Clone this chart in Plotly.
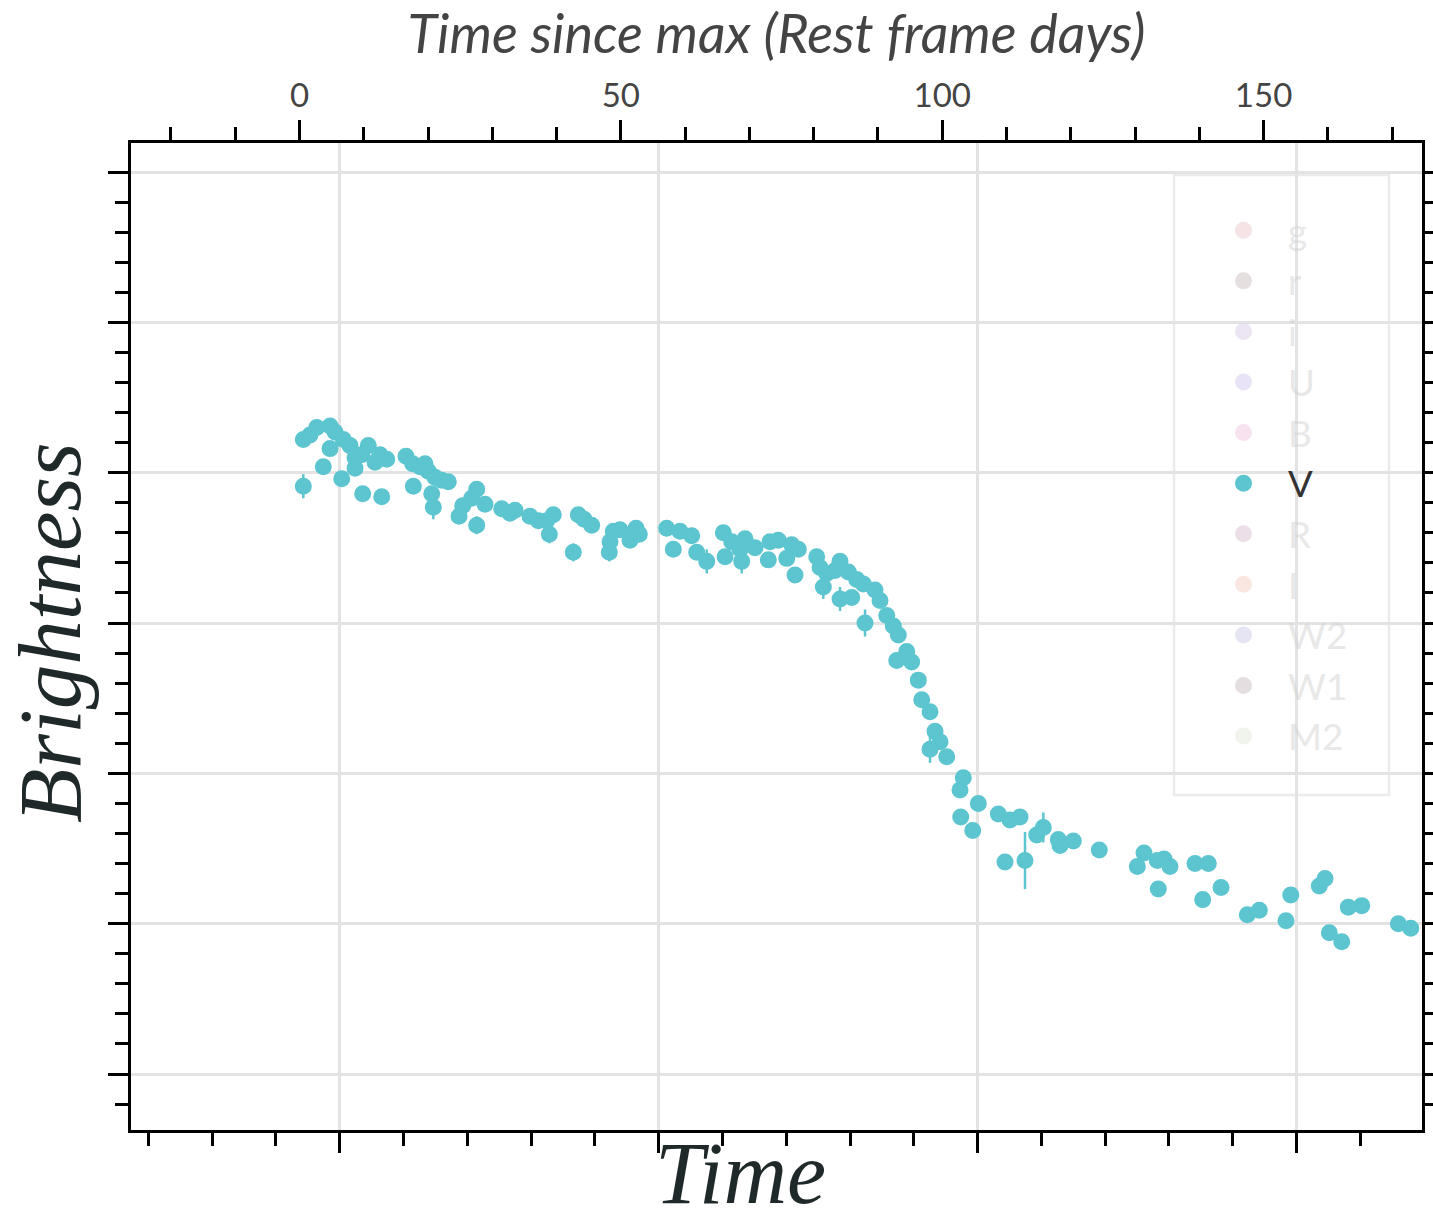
import plotly.graph_objects as go

# V-band photometry: rest-frame days since maximum, magnitude, 1-sigma error
v_phase = [0.59, 1.63, 2.68, 4.75, 5.52, 6.82, 7.86, 4.75, 3.70, 0.59,
           6.57, 8.64, 8.64, 10.70, 9.68, 11.75, 12.53, 13.57, 9.83, 12.79,
           16.57, 17.61, 18.75, 19.53, 20.04, 21.08, 22.12, 23.15, 17.71, 20.57,
           20.82, 27.57, 26.79, 28.86, 25.39, 24.82, 27.57, 31.46, 32.75, 33.53,
           35.86, 37.16, 38.46, 39.49, 38.87, 43.38, 44.27, 45.46, 42.60, 48.83,
           49.87, 48.31, 48.20, 51.42, 52.36, 52.87, 57.13, 59.20, 61.02, 58.16,
           61.80, 63.36, 65.94, 67.25, 69.32, 68.54, 66.21, 68.80, 70.87, 73.21,
           74.50, 72.94, 76.58, 77.61, 75.81, 77.10, 80.47, 80.99, 81.50, 82.03,
           84.10, 83.32, 85.39, 86.70, 84.10, 85.92, 87.72, 89.54, 90.32, 87.99,
           91.37, 92.39, 93.17, 94.48, 92.92, 95.25, 96.28, 96.81, 98.10, 98.88,
           99.66, 98.10, 100.70, 103.28, 102.77, 105.62, 102.88, 104.75, 108.73, 110.55,
           112.11, 109.77, 112.88, 114.70, 115.73, 118.06, 118.33, 120.40, 124.44, 130.36,
           131.40, 133.47, 134.51, 135.44, 133.62, 139.33, 141.40, 140.53, 143.38, 147.47,
           149.34, 153.49, 154.23, 158.67, 159.56, 160.23, 162.16, 163.19, 165.27, 170.97,
           172.90]
v_mag = [15.78, 15.75, 15.70, 15.69, 15.73, 15.78, 15.82, 15.84, 15.96, 16.09,
         16.04, 15.97, 15.90, 15.82, 15.88, 15.93, 15.88, 15.91, 16.14, 16.16,
         15.89, 15.94, 15.96, 15.94, 15.99, 16.03, 16.05, 16.06, 16.09, 16.14,
         16.23, 16.11, 16.17, 16.21, 16.22, 16.29, 16.35, 16.24, 16.27, 16.25,
         16.29, 16.32, 16.32, 16.28, 16.41, 16.28, 16.31, 16.35, 16.53, 16.39,
         16.38, 16.46, 16.53, 16.45, 16.37, 16.41, 16.37, 16.39, 16.42, 16.51,
         16.53, 16.59, 16.40, 16.46, 16.44, 16.51, 16.56, 16.59, 16.50, 16.46,
         16.45, 16.58, 16.48, 16.51, 16.57, 16.68, 16.56, 16.63, 16.76, 16.67,
         16.59, 16.65, 16.66, 16.71, 16.84, 16.83, 16.74, 16.78, 16.85, 17.00,
         16.95, 17.02, 17.08, 17.19, 17.25, 17.26, 17.38, 17.51, 17.59, 17.72,
         17.79, 17.84, 17.89, 18.03, 18.11, 18.20, 18.29, 18.38, 18.27, 18.31,
         18.29, 18.59, 18.58, 18.41, 18.36, 18.44, 18.48, 18.45, 18.51, 18.62,
         18.53, 18.58, 18.57, 18.62, 18.77, 18.60, 18.60, 18.84, 18.76, 18.94,
         18.91, 18.98, 18.81, 18.75, 18.70, 19.06, 19.12, 18.89, 18.88, 19.00,
         19.03]
v_err = [0.03, 0.03, 0.03, 0.03, 0.03, 0.03, 0.03, 0.03, 0.03, 0.08,
         0.04, 0.03, 0.03, 0.03, 0.03, 0.03, 0.03, 0.03, 0.05, 0.05,
         0.03, 0.03, 0.03, 0.03, 0.03, 0.03, 0.03, 0.03, 0.04, 0.05,
         0.08, 0.03, 0.03, 0.03, 0.03, 0.05, 0.06, 0.03, 0.03, 0.03,
         0.03, 0.03, 0.03, 0.03, 0.06, 0.03, 0.03, 0.03, 0.06, 0.03,
         0.03, 0.04, 0.06, 0.03, 0.03, 0.03, 0.03, 0.03, 0.03, 0.04,
         0.04, 0.08, 0.03, 0.03, 0.03, 0.03, 0.04, 0.08, 0.03, 0.03,
         0.03, 0.04, 0.03, 0.03, 0.04, 0.04, 0.03, 0.04, 0.08, 0.04,
         0.03, 0.04, 0.03, 0.03, 0.08, 0.04, 0.03, 0.03, 0.03, 0.09,
         0.03, 0.03, 0.03, 0.03, 0.03, 0.03, 0.03, 0.03, 0.03, 0.03,
         0.03, 0.09, 0.03, 0.03, 0.03, 0.03, 0.03, 0.03, 0.03, 0.03,
         0.03, 0.04, 0.19, 0.04, 0.10, 0.03, 0.03, 0.03, 0.03, 0.03,
         0.03, 0.03, 0.03, 0.03, 0.03, 0.03, 0.03, 0.03, 0.04, 0.03,
         0.03, 0.03, 0.03, 0.03, 0.03, 0.03, 0.03, 0.03, 0.03, 0.03,
         0.03]

# Filter list shown in the legend; only V is switched on
bands = ["g", "r", "i", "U", "B", "V", "R", "I", "W2", "W1", "M2"]
band_colors = ["#edc9cd", "#cdc1c1", "#dbcde9", "#d5c9f1", "#f3c7e3", "#5cc5cf",
               "#ddc1d1", "#f7d1c5", "#cdcde9", "#cdbfc3", "#e5e9dd"]

SANS = "Lato, 'Open Sans', sans-serif"
SERIF = "'Liberation Serif', 'DejaVu Serif', serif"

# axis extents
phase_range = [-26.22, 174.65]       # rest-frame days (top axis)
time_range = [-32.72, 169.67]        # observed time (bottom axis, unlabelled)
mag_range = [20.3725, 13.807]        # magnitudes, brighter upward

fig = go.Figure()

for band, color in zip(bands, band_colors):
    if band == "V":
        fig.add_trace(go.Scatter(
            x=v_phase, y=v_mag, xaxis="x2", yaxis="y",
            mode="markers", name="V",
            marker=dict(color=color, size=15, line=dict(width=2, color=color)),
            error_y=dict(type="data", array=v_err, visible=True,
                         color=color, thickness=2.5, width=0),
        ))
    else:
        # filters without photometry here: listed in the legend, switched off
        fig.add_trace(go.Scatter(
            x=[None], y=[None], xaxis="x", yaxis="y",
            mode="markers", visible="legendonly",
            name=f'<span style="color:#d2d2d2">{band}</span>',
            marker=dict(color=color, size=15, line=dict(width=2, color=color)),
        ))

tick_common = dict(ticks="outside", tickcolor="black", tickwidth=2.5,
                   showline=True, linecolor="black", linewidth=3,
                   zeroline=False, automargin=False)

fig.update_layout(
    width=1433, height=1224,
    margin=dict(l=131, r=11, t=143, b=94),
    paper_bgcolor="white", plot_bgcolor="white",
    showlegend=True,
    legend=dict(
        x=(1199 - 131) / 1291, xanchor="left",
        y=(1130 - 200) / 987, yanchor="top",
        bgcolor="rgba(0,0,0,0)", borderwidth=0,
        font=dict(family=SANS, size=36.6, color="#333333"),
        itemwidth=79, itemclick=False, itemdoubleclick=False,
    ),
    xaxis=dict(
        range=time_range, tick0=0, dtick=50, ticklen=20,
        showticklabels=False,
        showgrid=True, gridcolor="#e3e3e3", gridwidth=2.5,
        minor=dict(dtick=10, ticks="outside", ticklen=13, tickwidth=2.5,
                   tickcolor="black", showgrid=False),
        **tick_common,
    ),
    xaxis2=dict(
        range=phase_range, overlaying="x", side="top", anchor="y",
        tick0=0, dtick=50, ticklen=20, showgrid=False,
        tickfont=dict(family=SANS, size=33, color="#444444"),
        title=dict(text="<i>Time since max (Rest frame days)</i>",
                   font=dict(family=SANS, size=54, color="#444444"),
                   standoff=9),
        minor=dict(dtick=10, ticks="outside", ticklen=13, tickwidth=2.5,
                   tickcolor="black", showgrid=False),
        **tick_common,
    ),
    yaxis=dict(
        range=mag_range, tick0=14, dtick=1, ticklen=20,
        showticklabels=False, mirror="ticks",
        showgrid=True, gridcolor="#e3e3e3", gridwidth=2.5,
        minor=dict(dtick=0.2, ticks="outside", ticklen=13, tickwidth=2.5,
                   tickcolor="black", showgrid=False),
        **tick_common,
    ),
    shapes=[dict(
        type="rect", xref="paper", yref="paper", layer="between",
        x0=(1174 - 131) / 1291, x1=(1389 - 131) / 1291,
        y0=(1130 - 795) / 987, y1=(1130 - 175) / 987,
        fillcolor="rgba(255,255,255,0.7)",
        line=dict(color="#ebebeb", width=2.5),
    )],
    annotations=[
        dict(text="<i>Time</i>", xref="paper", yref="paper",
             x=(740 - 131) / 1291, y=(1130 - 1224) / 987,
             xanchor="center", yanchor="bottom", showarrow=False,
             font=dict(family=SERIF, size=88, color="#1f2929")),
        dict(text="<i>Brightness</i>", xref="paper", yref="paper",
             x=(50 - 131) / 1291, y=(1130 - 633) / 987, textangle=-90,
             xanchor="center", yanchor="middle", showarrow=False,
             font=dict(family=SERIF, size=89, color="#1f2929")),
    ],
)

fig.write_html("out.html")
